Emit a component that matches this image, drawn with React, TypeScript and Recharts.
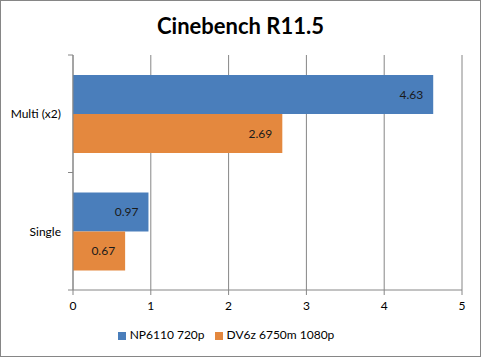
import React from 'react';
import {
  BarChart, Bar, XAxis, YAxis, CartesianGrid, Legend, LabelList,
} from 'recharts';

const categories = ['Multi (x2)', 'Single'];
const np6110 = [4.63, 0.97];
const dv6z = [2.69, 0.67];
const xTicks = [0, 1, 2, 3, 4, 5];

const data = categories.map((name, i) => ({ name, np: np6110[i], dv: dv6z[i] }));

const GRID = '#868686';
const FONT = 'Lato, "Open Sans", sans-serif';
const seriesOrder = ['np', 'dv'];

function CategoryTick(props: any) {
  const { x, y, payload } = props;
  const off = payload && typeof payload.offset === 'number' ? payload.offset : 0;
  return (
    <g>
      <text x={x - 12} y={y} textAnchor="end" dominantBaseline="central" fill="#000" fontSize={12} fontFamily={FONT}>
        {payload.value}
      </text>
      {off > 0 && <line x1={x - 5} x2={x} y1={y - off} y2={y - off} stroke={GRID} />}
      {off > 0 && <line x1={x - 5} x2={x} y1={y + off} y2={y + off} stroke={GRID} />}
    </g>
  );
}

export default function App() {
  return (
    <div style={{ position: 'absolute', left: 0, top: 0, width: 481, height: 357, background: '#fff', fontFamily: FONT }}>
      <div style={{
        position: 'absolute', left: 0, top: 0, width: 479, height: 355,
        border: '1px solid #868686',
      }} />
      <div style={{
        position: 'absolute', left: 0, top: 12, width: 481, textAlign: 'center',
        fontSize: 22, fontWeight: 700, color: '#000', fontFamily: FONT,
      }}>
        Cinebench R11.5
      </div>
      <BarChart
        width={481}
        height={357}
        data={data}
        layout="vertical"
        margin={{ top: 55, right: 19, left: 0, bottom: 3 }}
        barCategoryGap="17%"
        barGap={0}
      >
        <CartesianGrid horizontal={false} stroke={GRID} />
        <XAxis
          type="number"
          domain={[0, 5]}
          ticks={xTicks}
          tick={{ fill: '#000', fontSize: 12, fontFamily: FONT }}
          axisLine={{ stroke: GRID }}
          tickLine={{ stroke: GRID }}
          tickSize={5}
          tickMargin={6}
          height={37}
        />
        <YAxis
          type="category"
          dataKey="name"
          width={73}
          axisLine={{ stroke: GRID }}
          tickLine={false}
          tickSize={0}
          tickMargin={0}
          tick={<CategoryTick />}
        />
        <Legend
          verticalAlign="bottom"
          align="center"
          iconType="square"
          iconSize={8}
          height={27}
          itemSorter={(item: any) => seriesOrder.indexOf(item.dataKey)}
          wrapperStyle={{ fontSize: 12, fontFamily: FONT, color: '#000' }}
          formatter={(v: any) => <span style={{ color: '#000' }}>{v}</span>}
        />
        <Bar dataKey="np" name="NP6110 720p" fill="#4A7EBB" isAnimationActive={false}>
          <LabelList dataKey="np" position="insideRight" offset={10} fill="#1a1a1a" fontSize={12} fontFamily={FONT}
            formatter={(v: any) => Number(v).toFixed(2)} />
        </Bar>
        <Bar dataKey="dv" name="DV6z 6750m 1080p" fill="#E4883E" isAnimationActive={false}>
          <LabelList dataKey="dv" position="insideRight" offset={10} fill="#1a1a1a" fontSize={12} fontFamily={FONT}
            formatter={(v: any) => Number(v).toFixed(2)} />
        </Bar>
      </BarChart>
    </div>
  );
}
